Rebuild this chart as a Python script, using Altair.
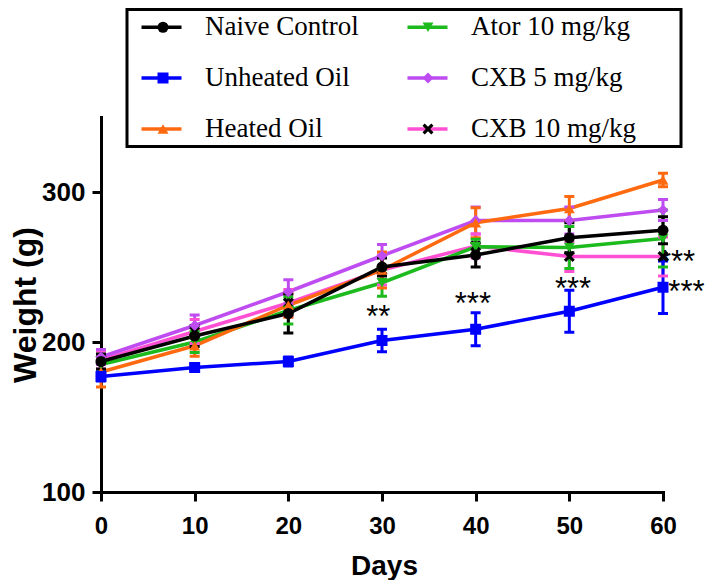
import altair as alt
import pandas as pd

# ---------------- data ----------------
days = [0, 10, 20, 30, 40, 50, 60]

series_names = ["Naive Control", "Unheated Oil", "Heated Oil",
                "Ator 10 mg/kg", "CXB 5 mg/kg", "CXB 10 mg/kg"]

naive_mean = [187, 204, 219, 250, 258, 269.5, 274.5]
naive_err = [5, 7, 13, 6, 8, 10, 9]
unheated_mean = [177, 183, 187, 201, 208.5, 220.5, 236.5]
unheated_err = [3, 2, 3, 7.5, 11, 14, 17.5]
heated_mean = [180, 197.5, 224.5, 248, 279.5, 289, 308]
heated_err = [10, 7, 8, 12, 10, 8, 4.5]
ator_mean = [185, 200, 221, 239.5, 263.5, 263, 269]
ator_err = [4, 7, 9, 9, 5, 14, 19]
cxb5_mean = [190, 211, 233.5, 257.5, 281, 281, 288]
cxb5_err = [5, 7, 8, 7.5, 9, 9, 7]
cxb10_mean = [188, 207, 226, 248, 264, 257, 257]
cxb10_err = [6, 8, 9, 10, 8, 10, 13]

# significance marks (position in data units, text)
ann_x = [29.6, 39.7, 50.4, 61.5, 62.5]
ann_y = [219.5, 228, 238, 255.8, 236.2]
ann_text = ["**", "***", "***", "***", "***"]

# ---------------- styling ----------------
line_colors = ["#000000", "#0000FF", "#FF6A10", "#1DBA1D", "#BE4CF0", "#FF4FD2"]
marker_colors = ["#000000", "#0000FF", "#FF6A10", "#1DBA1D", "#BE4CF0", "#000000"]
X_PATH = ("M-1,-0.6L-0.6,-1L0,-0.4L0.6,-1L1,-0.6L0.4,0L1,0.6L0.6,1"
          "L0,0.4L-0.6,1L-1,0.6L-0.4,0Z")
marker_shapes = ["circle", "square", "triangle-up", "triangle-down", "diamond", X_PATH]
LINE_PATH = "M-2,0H2"
MPFX = "m:"  # marker-legend key prefix (keeps the two legends separate)
BLANK = "\u2800"  # blank glyph used only to pad the legend box

means = [naive_mean, unheated_mean, heated_mean, ator_mean, cxb5_mean, cxb10_mean]
errs = [naive_err, unheated_err, heated_err, ator_err, cxb5_err, cxb10_err]

rows = []
# reverse so Naive Control is drawn last (on top)
for name, m, e, lc in reversed(list(zip(series_names, means, errs, line_colors))):
    for d, mv, ev in zip(days, m, e):
        rows.append({"day": d, "weight": mv, "lo": mv - ev, "hi": mv + ev,
                     "series": name, "group": MPFX + name, "lc": lc})
df = pd.DataFrame(rows)
df["order"] = range(len(df))

ann_df = pd.DataFrame({"x": ann_x, "y": ann_y, "t": ann_text})

xscale = alt.Scale(domain=[0, 60], nice=False, zero=False)
yscale = alt.Scale(domain=[100, 350], nice=False, zero=False)

x_axis = alt.Axis(values=days, title="Days", labelFlush=False, labelOverlap=False,
                  tickSize=9, labelPadding=13, labelFontSize=24,
                  titleFontSize=28, titleX=283, titleY=82,
                  titleBaseline="alphabetic", titleAlign="center")
y_axis = alt.Axis(values=[100, 200, 300], title="Weight (g)", labelFlush=False,
                  labelOverlap=False, tickSize=9, labelPadding=7, labelFontSize=26,
                  titleFontSize=32, titleX=-76, titleY=187.5, titleAngle=270,
                  titleAlign="center", titleBaseline="middle")

label_expr = ("indexof(['Ator 10 mg/kg','CXB 5 mg/kg','CXB 10 mg/kg'], datum.label) >= 0"
              " ? datum.label + '" + BLANK * 2 + "' : datum.label")

LEG_Y = -107.5
common_leg = dict(orient="none", columns=2, rowPadding=23,
                  padding=4, labelFont="Liberation Serif", labelFontSize=27,
                  labelOffset=30, labelLimit=400, legendY=LEG_Y)

legend_lines = alt.Legend(title=BLANK, titleOrient="left", titleFontSize=1,
                          titlePadding=16,
                          legendX=26, columnPadding=41, symbolType=LINE_PATH,
                          symbolSize=400, symbolStrokeWidth=3.5,
                          labelColor="black", strokeColor="black",
                          labelExpr=label_expr, **common_leg)
legend_marks = alt.Legend(title=None, legendX=44.5, columnPadding=208,
                          symbolSize=121, symbolStrokeWidth=0,
                          labelColor="transparent", labelExpr="''",
                          **common_leg)

base = alt.Chart(df)

lines = base.mark_line(strokeWidth=3.5).encode(
    x=alt.X("day:Q", scale=xscale, axis=x_axis),
    y=alt.Y("weight:Q", scale=yscale, axis=y_axis),
    color=alt.Color("series:N",
                    scale=alt.Scale(domain=series_names, range=line_colors),
                    legend=legend_lines),
    order=alt.Order("order:Q"),
)

err_v = base.mark_rule(strokeWidth=3).encode(
    x="day:Q", y="lo:Q", y2="hi:Q",
    stroke=alt.Stroke("lc:N", scale=None),
)
err_lo = base.mark_rule(strokeWidth=3, xOffset=-5, x2Offset=5).encode(
    x="day:Q", x2="day:Q", y="lo:Q",
    stroke=alt.Stroke("lc:N", scale=None),
)
err_hi = base.mark_rule(strokeWidth=3, xOffset=-5, x2Offset=5).encode(
    x="day:Q", x2="day:Q", y="hi:Q",
    stroke=alt.Stroke("lc:N", scale=None),
)

ann = alt.Chart(ann_df).mark_text(font="Liberation Sans", fontSize=31,
                                  baseline="alphabetic", dy=14, align="center",
                                  color="black").encode(
    x="x:Q", y="y:Q", text="t:N")

group_domain = [MPFX + n for n in series_names]
points = base.mark_point(filled=True, size=121, opacity=1, strokeWidth=0).encode(
    x="day:Q", y="weight:Q",
    fill=alt.Fill("group:N",
                  scale=alt.Scale(domain=group_domain, range=marker_colors),
                  legend=legend_marks),
    shape=alt.Shape("group:N",
                    scale=alt.Scale(domain=group_domain, range=marker_shapes),
                    legend=legend_marks),
)

chart = alt.layer(lines, err_v, err_lo, err_hi, ann, points).properties(
    width=562, height=375,
    autosize=alt.AutoSizeParams(type="none"),
    padding={"left": 93, "top": 109, "right": 43, "bottom": 88},
    background="white",
).configure_view(stroke=None).configure_axis(
    domainColor="black", domainWidth=3, domainCap="square",
    tickColor="black", tickWidth=3, grid=False,
    labelFont="Liberation Sans", labelFontWeight="bold", labelColor="black",
    titleFont="Liberation Sans", titleFontWeight="bold", titleColor="black",
).configure_legend(strokeWidth=3)

chart.save("out.html", embed_options={"renderer": "svg", "actions": False})
